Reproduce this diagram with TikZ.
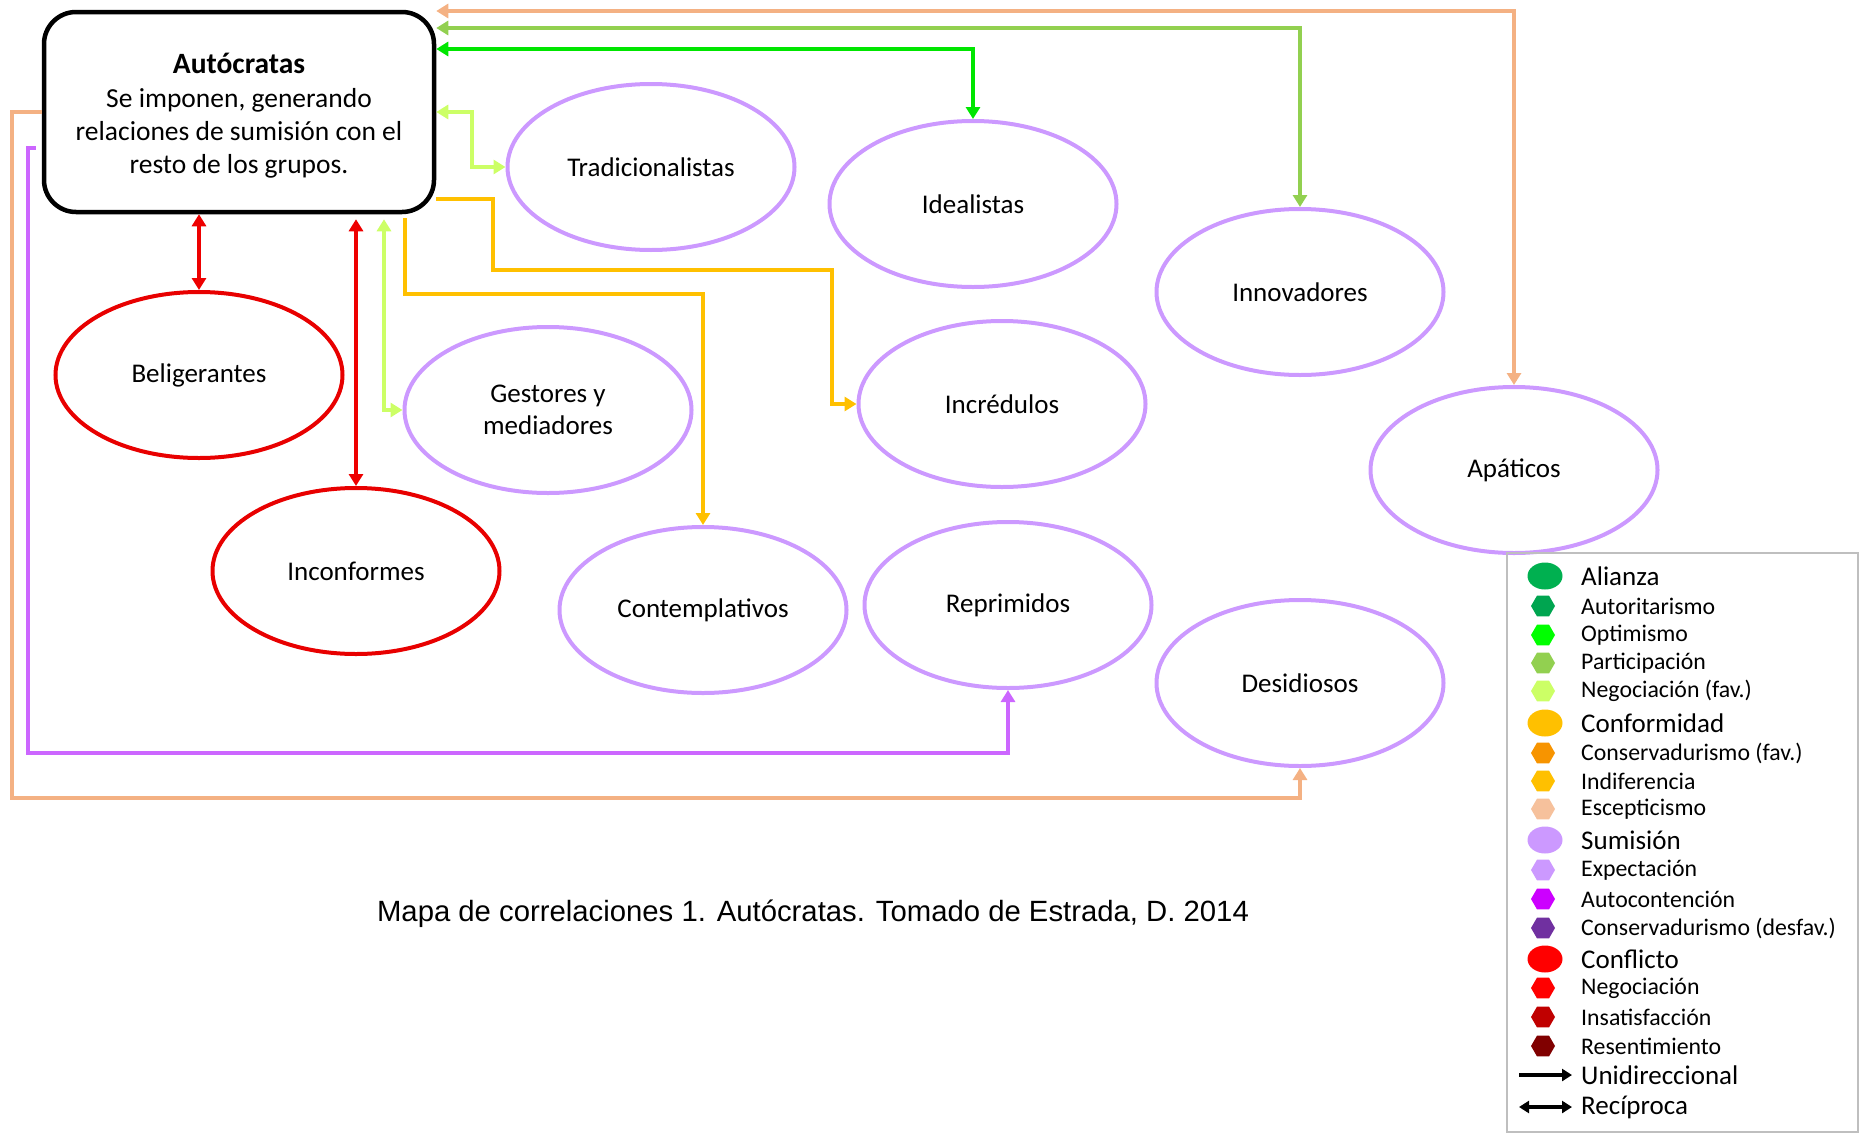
\documentclass[tikz,border=0pt]{standalone}
\usepackage{fontspec}
\setmainfont{Carlito}
\newfontfamily\capfont{Liberation Sans}
\usetikzlibrary{shapes.geometric,arrows.meta}
\definecolor{peach}{HTML}{F4B183}
\definecolor{partic}{HTML}{92D050}
\definecolor{optim}{HTML}{00E600}
\definecolor{optimleg}{HTML}{00FF00}
\definecolor{negfav}{HTML}{CCFF66}
\definecolor{indif}{HTML}{FFC000}
\definecolor{consfav}{HTML}{F79400}
\definecolor{sumi}{HTML}{CC99FF}
\definecolor{autocont}{HTML}{CC00FF}
\definecolor{autoline}{HTML}{CC66FF}
\definecolor{consdes}{HTML}{7030A0}
\definecolor{ellred}{HTML}{E80000}
\definecolor{redline}{HTML}{EE0000}
\definecolor{insat}{HTML}{C00000}
\definecolor{resent}{HTML}{800000}
\definecolor{alianza}{HTML}{00B050}
\definecolor{autorit}{HTML}{00A550}
\definecolor{legborder}{HTML}{BFBFBF}
\tikzset{
  Tri/.tip={Triangle[length=12pt,width=14pt]},
  LTri/.tip={Triangle[length=10pt,width=12pt]},
  grpnode/.style={ellipse, draw=sumi, line width=4pt, minimum width=287pt, minimum height=166pt, inner sep=0pt, align=center, font=\fontsize{27}{32}\selectfont},
  redgrp/.style={grpnode, draw=ellred},
  oneway/.style={line width=4.5pt, -Tri},
  twoway/.style={line width=4.5pt, Tri-Tri},
  hexmark/.style={regular polygon, regular polygon sides=6, minimum size=24pt, inner sep=0pt},
  bigmark/.style={ellipse, minimum width=35pt, minimum height=27pt, inner sep=0pt},
  legsmall/.style={anchor=west, inner sep=0pt, font=\fontsize{23.8}{27}\selectfont},
  legbig/.style={anchor=west, inner sep=0pt, font=\fontsize{27}{30}\selectfont}
}
\begin{document}
\begin{tikzpicture}[x=1pt,y=-1pt]
\useasboundingbox (0,0) rectangle (1860,1135);

% main box
\node[draw=black, line width=4.5pt, rounded corners=32pt, minimum width=390pt, minimum height=200pt, inner sep=0pt] (auto) at (239,112) {};
\node[align=center, inner sep=0pt, font=\fontsize{27.5}{33}\selectfont] (autotext) at (239,116)
  {{\fontsize{29.5}{33}\selectfont\bfseries Autócratas}\\[1pt] Se imponen, generando\\ relaciones de sumisión con el\\ resto de los grupos.};

% groups
\node[grpnode] (trad) at (651,167) {Tradicionalistas};
\node[grpnode] (ideal) at (973,204) {Idealistas};
\node[grpnode] (innov) at (1300,292) {Innovadores};
\node[grpnode] (apat) at (1514,470) {Apáticos};
\node[redgrp] (belig) at (199,375) {Beligerantes};
\node[grpnode] (gest) at (548,410) {Gestores y\\mediadores};
\node[grpnode] (incred) at (1002,404) {Incrédulos};
\node[redgrp] (incon) at (356,571) {Inconformes};
\node[grpnode] (contem) at (703,610) {Contemplativos};
\node[grpnode] (reprim) at (1008,605) {Reprimidos};
\node[grpnode] (desid) at (1300,683) {Desidiosos};

% connectors
\draw[oneway, peach] (auto.west) -| (12,798) -| (desid.south);
\draw[twoway, peach] (auto.east |- 0,11) -| (apat.north);
\draw[twoway, partic] (auto.east |- 0,28) -| (innov.north);
\draw[twoway, optim] (auto.east |- 0,49) -| (ideal.north);
\draw[twoway, negfav] (auto.east |- 0,112) -| (472,167) -- (trad.west);
\draw[twoway, negfav, shorten <=5pt] (auto.south -| 384,0) |- (gest.west);
\draw[twoway, redline] (auto.south -| belig.north) -- (belig.north);
\draw[twoway, redline, shorten <=5pt] (auto.south -| incon.north) -- (incon.north);
\draw[oneway, indif] (auto.east |- 0,199) -| (493,270) -| (832,404) -- (incred.west);
\draw[oneway, indif, shorten <=4pt] (auto.south -| 405,0) |- (contem.north |- 0,294) -- (contem.north);
\draw[oneway, autoline, shorten <=6pt] (auto.west |- 0,148) -| (28,753) -| (reprim.south);

% caption
\node[font=\capfont\fontsize{29.3}{36}\selectfont] (cap) at (813,914) {Mapa de correlaciones 1. Autócratas. Tomado de Estrada, D. 2014};

% legend
\node[draw=legborder, line width=1.5pt, minimum width=351pt, minimum height=579pt, inner sep=0pt] (legbox) at (1682.5,842.5) {};

\node[bigmark, fill=alianza] (m1) at (1545,576) {};
\node[legbig] (t1) at (1581,576) {Alianza};
\node[hexmark, fill=autorit] (m2) at (1543,606) {};
\node[legsmall] (t2) at (1581,606) {Autoritarismo};
\node[hexmark, fill=optimleg] (m3) at (1543,635) {};
\node[legsmall] (t3) at (1581,635) {Optimismo};
\node[hexmark, fill=partic] (m4) at (1543,663) {};
\node[legsmall] (t4) at (1581,663) {Participación};
\node[hexmark, fill=negfav] (m5) at (1543,691) {};
\node[legsmall] (t5) at (1581,691) {Negociación (fav.)};

\node[bigmark, fill=indif] (m6) at (1545,723) {};
\node[legbig] (t6) at (1581,723) {Conformidad};
\node[hexmark, fill=consfav] (m7) at (1543,753) {};
\node[legsmall] (t7) at (1581,753) {Conservadurismo (fav.)};
\node[hexmark, fill=indif] (m8) at (1543,781) {};
\node[legsmall] (t8) at (1581,781) {Indiferencia};
\node[hexmark, fill=peach!80!white] (m9) at (1543,809) {};
\node[legsmall] (t9) at (1581,809) {Escepticismo};

\node[bigmark, fill=sumi] (m10) at (1545,840) {};
\node[legbig] (t10) at (1581,840) {Sumisión};
\node[hexmark, fill=sumi] (m11) at (1543,870) {};
\node[legsmall] (t11) at (1581,870) {Expectación};
\node[hexmark, fill=autocont] (m12) at (1543,899) {};
\node[legsmall] (t12) at (1581,899) {Autocontención};
\node[hexmark, fill=consdes] (m13) at (1543,928) {};
\node[legsmall] (t13) at (1581,928) {Conservadurismo (desfav.)};

\node[bigmark, fill=red] (m14) at (1545,959) {};
\node[legbig] (t14) at (1581,959) {Conflicto};
\node[hexmark, fill=red] (m15) at (1543,988) {};
\node[legsmall] (t15) at (1581,988) {Negociación};
\node[hexmark, fill=insat] (m16) at (1543,1017) {};
\node[legsmall] (t16) at (1581,1017) {Insatisfacción};
\node[hexmark, fill=resent] (m17) at (1543,1046) {};
\node[legsmall] (t17) at (1581,1046) {Resentimiento};

\coordinate (u1) at (1519,1075);
\coordinate (u2) at (1572,1075);
\draw[line width=3.5pt, -LTri] (u1) -- (u2);
\node[legbig] (t18) at (1581,1075) {Unidireccional};
\coordinate (r1) at (1519,1107);
\coordinate (r2) at (1572,1107);
\draw[line width=3.5pt, LTri-LTri] (r1) -- (r2);
\node[legbig] (t19) at (1581,1107) {Recíproca};
\end{tikzpicture}
\end{document}
